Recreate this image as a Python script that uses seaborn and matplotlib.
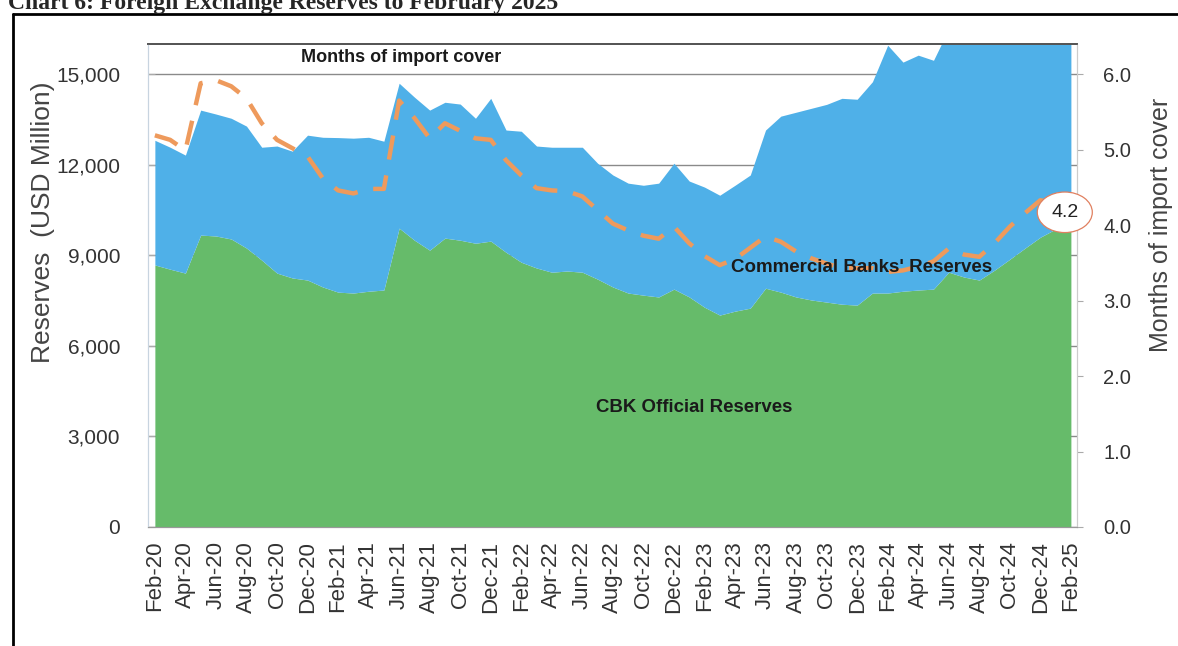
import numpy as np
import pandas as pd
import matplotlib
matplotlib.use('Agg')
import matplotlib.pyplot as plt
from matplotlib import font_manager
from matplotlib.lines import Line2D
import seaborn as sns

# monthly, Feb-20 .. Feb-25
months = pd.date_range('2020-02-01', periods=61, freq='MS').strftime('%b-%y').tolist()

# USD million
cbk_reserves = [8680, 8540, 8410, 9670, 9640, 9540, 9240, 8840, 8410, 8250, 8180,
                7950, 7780, 7750, 7810, 7850, 9900, 9500, 9170, 9570, 9500, 9400, 9470,
                9100, 8770, 8580, 8440, 8480, 8440, 8210, 7950, 7750, 7680, 7620, 7880,
                7620, 7280, 7020, 7150, 7250, 7910, 7780, 7620, 7520, 7450, 7380, 7350,
                7750, 7750, 7810, 7850, 7880, 8440, 8280, 8180, 8510, 8870, 9240, 9600,
                9870, 10100]

bank_reserves = [4130, 4040, 3910, 4140, 4040, 4000, 4040, 3740, 4210, 4200, 4800,
                 4960, 5120, 5130, 5100, 4930, 4800, 4740, 4640, 4500, 4510, 4140, 4730,
                 4050, 4340, 4040, 4140, 4100, 4140, 3840, 3710, 3640, 3640, 3770, 4170,
                 3840, 3980, 3970, 4170, 4410, 5240, 5830, 6120, 6350, 6550, 6820, 6820,
                 7000, 8210, 7590, 7780, 7580, 8060, 8520, 8520, 8390, 8130, 7860, 7600,
                 7430, 7300]

# months of import cover
import_cover = [5.19, 5.13, 4.99, 5.88, 5.92, 5.84, 5.68, 5.35, 5.13, 5.02, 4.91,
                4.62, 4.46, 4.42, 4.48, 4.48, 5.65, 5.42, 5.15, 5.35, 5.25, 5.15, 5.13,
                4.86, 4.66, 4.49, 4.46, 4.45, 4.38, 4.20, 4.02, 3.93, 3.86, 3.82, 3.98,
                3.76, 3.59, 3.47, 3.55, 3.70, 3.85, 3.78, 3.65, 3.56, 3.49, 3.43, 3.43,
                3.43, 3.38, 3.40, 3.45, 3.52, 3.69, 3.61, 3.58, 3.76, 3.98, 4.16, 4.33,
                4.28, 4.20]

df = pd.DataFrame({'Month': months, 'idx': np.arange(len(months)),
                   'CBK': cbk_reserves, 'Banks': bank_reserves,
                   'Cover': import_cover})

green = '#66bb6a'
blue = '#4fb0e8'
orange = '#ee9a5c'

sns.set_style('white')
installed = {f.name for f in font_manager.fontManager.ttflist}
narrow = 'Liberation Sans Narrow' if 'Liberation Sans Narrow' in installed else 'Liberation Sans'
plt.rcParams['font.family'] = ['Liberation Sans', 'DejaVu Sans']

fig = plt.figure(figsize=(11.78, 6.46), dpi=100)
W, H = 1178, 646
ax = fig.add_axes([148 / W, 1 - 527 / H, (1077 - 148) / W, (527 - 44) / H])

ax.stackplot(df['idx'], df['CBK'], df['Banks'], colors=[green, blue], lw=0, zorder=2)
ax.set_ylim(0, 16000)
ax.set_xlim(-0.45, 60.4)
ax.set_yticks(range(0, 15001, 3000))
ax.set_yticklabels([f'{v:,}' for v in range(0, 15001, 3000)])
ax.grid(axis='y', color='#8a8a8a', lw=1, zorder=0)
ax.set_axisbelow(True)

ax.set_xticks(range(0, 61, 2))
ax.set_xticklabels(months[::2], rotation=90)
ax.set_xticks(range(61), minor=True)
ax.tick_params(axis='x', which='both', direction='out', length=6, color='#999999',
               labelsize=16, labelcolor='#333333', pad=4)
ax.tick_params(axis='y', direction='in', length=5, color='#aaaaaa',
               labelsize=15, labelcolor='#333333', pad=20)
ax.set_ylabel('Reserves  (USD Million)', fontsize=19, color='#444444')
ax.yaxis.set_label_coords(-0.100, 0.63)

ax2 = ax.twinx()
sns.lineplot(data=df, x='idx', y='Cover', ax=ax2, color=orange, lw=3.2, linestyle='--')
ax2.lines[0].set_dashes([5.5, 3.6])
ax2.set_ylim(0, 6.4)
ax2.set_xlim(-0.45, 60.4)
ax2.set_yticks(np.arange(0, 6.1, 1.0))
ax2.set_yticklabels([f'{v:.1f}' for v in np.arange(0, 6.1, 1.0)])
ax2.tick_params(axis='y', direction='out', length=4, color='#aaaaaa',
                labelsize=14.5, labelcolor='#333333', pad=15)
ax2.set_xlabel('')
ax2.set_ylabel('Months of import cover', fontsize=18, color='#444444')
ax2.yaxis.set_label_coords(1.078, 0.625)

for a in (ax, ax2):
    a.spines['top'].set_color('#555555')
    a.spines['top'].set_linewidth(1.3)
    a.spines['left'].set_color('#c8d4e0')
    a.spines['right'].set_color('#cccccc')
    a.spines['bottom'].set_color('#999999')

lab = dict(fontfamily=[narrow, 'DejaVu Sans'], fontweight='bold', color='#1a1a1a',
           ha='center', va='center', zorder=5)
ax2.text(16.1, 6.22, 'Months of import cover', fontsize=13, **lab)
ax2.text(46.3, 3.44, "Commercial Banks' Reserves", fontsize=13.5, **lab)
ax2.text(35.3, 1.58, 'CBK Official Reserves', fontsize=13.4, **lab)
ax2.text(59.6, 4.17, '4.2', fontsize=14, color='#222222', ha='center', va='center',
         zorder=6, bbox=dict(boxstyle='ellipse,pad=0.3', fc='white', ec='#e08060', lw=0.9))

# outer frame and cut-off title
fig.add_artist(Line2D([13 / W, 13 / W], [0, 1 - 14 / H], color='black', lw=2))
fig.add_artist(Line2D([13 / W, 1], [1 - 14 / H, 1 - 14 / H], color='black', lw=2))
fig.text(8 / W, 1 - 9 / H, 'Chart 6: Foreign Exchange Reserves to February 2025',
         fontsize=17, fontweight='bold', fontfamily=['Liberation Serif', 'DejaVu Serif'],
         va='baseline', ha='left')

fig.savefig('out.png', dpi=100)
